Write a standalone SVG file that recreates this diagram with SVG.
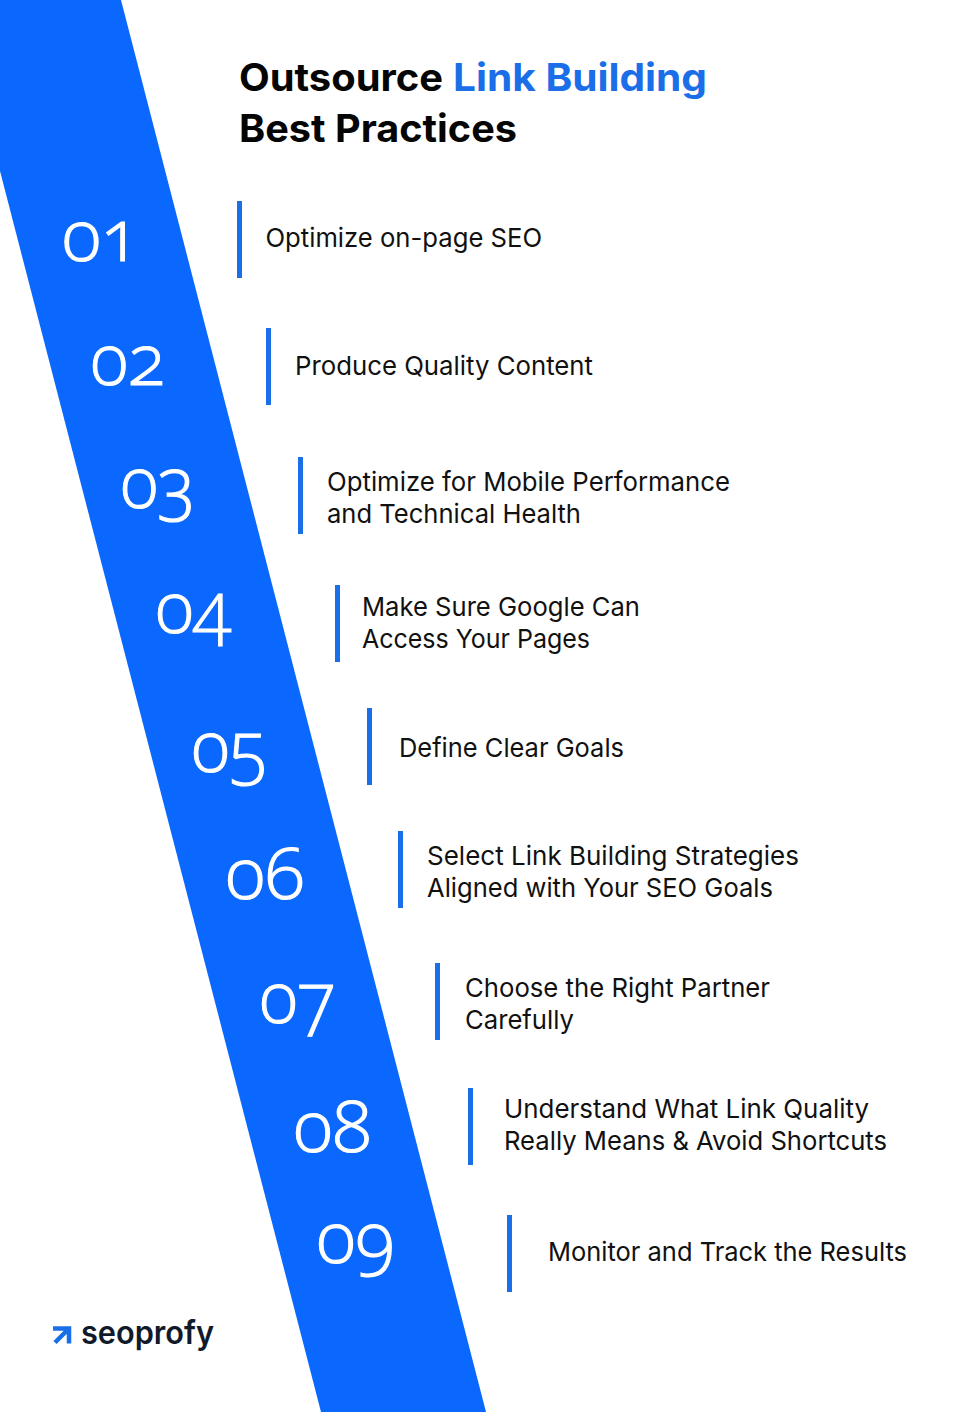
<svg xmlns="http://www.w3.org/2000/svg" width="972" height="1412" viewBox="0 0 972 1412">
<style>
.t{font-family:"Inter","Noto Sans",sans-serif;font-size:26px;fill:#111}
.n{font-family:"Open Sans","Roboto",sans-serif;font-size:72px;font-weight:300;fill:#fff;stroke:#fff;stroke-width:1.100px;font-feature-settings:"onum"}
.b{fill:#0a68ff}
.r{fill:#1a6ee8}
.h{font-family:"Inter",sans-serif;font-size:38px;font-weight:700;fill:#050505}
</style>
<rect width="972" height="1412" fill="#fff"/>
<g id="band"><polygon class="b" points="0,0 121,0 486,1412 321,1412 0,171"/></g>
<g id="title"><text class="h" x="239" y="91" textLength="204" lengthAdjust="spacingAndGlyphs">Outsource</text><text class="h" x="453" y="91" textLength="254" lengthAdjust="spacingAndGlyphs" style="fill:#1a6ee8">Link Building</text><text class="h" x="239" y="142" textLength="278" lengthAdjust="spacingAndGlyphs">Best Practices</text></g>
<g id="item1"><text class="n" x="62" y="260.500" textLength="78" lengthAdjust="spacingAndGlyphs">01</text><rect class="r" x="237" y="201" width="5" height="77"/><text class="t" x="265.500" y="247" textLength="276.500" lengthAdjust="spacingAndGlyphs">Optimize on-page SEO</text></g>
<g id="item2"><text class="n" x="90.500" y="384.500" textLength="75" lengthAdjust="spacingAndGlyphs">02</text><rect class="r" x="266" y="328" width="5" height="77"/><text class="t" x="295" y="375" textLength="298" lengthAdjust="spacingAndGlyphs">Produce Quality Content</text></g>
<g id="item3"><text class="n" x="120.500" y="507.500" textLength="75" lengthAdjust="spacingAndGlyphs">03</text><rect class="r" x="298" y="457" width="5" height="77"/><text class="t" x="327" y="491" textLength="403" lengthAdjust="spacingAndGlyphs">Optimize for Mobile Performance</text><text class="t" x="327" y="523" textLength="254" lengthAdjust="spacingAndGlyphs">and Technical Health</text></g>
<g id="item4"><text class="n" x="155.500" y="632.500" textLength="76" lengthAdjust="spacingAndGlyphs">04</text><rect class="r" x="335" y="585" width="5" height="77"/><text class="t" x="362" y="616" textLength="278" lengthAdjust="spacingAndGlyphs">Make Sure Google Can</text><text class="t" x="362" y="648" textLength="228" lengthAdjust="spacingAndGlyphs">Access Your Pages</text></g>
<g id="item5"><text class="n" x="191.500" y="771.500" textLength="76" lengthAdjust="spacingAndGlyphs">05</text><rect class="r" x="367" y="708" width="5" height="77"/><text class="t" x="399" y="757" textLength="225" lengthAdjust="spacingAndGlyphs">Define Clear Goals</text></g>
<g id="item6"><text class="n" x="225.500" y="898.500" textLength="79" lengthAdjust="spacingAndGlyphs">06</text><rect class="r" x="398" y="831" width="5" height="77"/><text class="t" x="427" y="865" textLength="372" lengthAdjust="spacingAndGlyphs">Select Link Building Strategies</text><text class="t" x="427" y="897" textLength="346" lengthAdjust="spacingAndGlyphs">Aligned with Your SEO Goals</text></g>
<g id="item7"><text class="n" x="259.500" y="1022.500" textLength="76" lengthAdjust="spacingAndGlyphs">07</text><rect class="r" x="435" y="963" width="5" height="77"/><text class="t" x="465" y="997" textLength="305" lengthAdjust="spacingAndGlyphs">Choose the Right Partner</text><text class="t" x="465" y="1029" textLength="109" lengthAdjust="spacingAndGlyphs">Carefully</text></g>
<g id="item8"><text class="n" x="293.500" y="1151.500" textLength="78" lengthAdjust="spacingAndGlyphs">08</text><rect class="r" x="468" y="1088" width="5" height="77"/><text class="t" x="504" y="1118" textLength="365" lengthAdjust="spacingAndGlyphs">Understand What Link Quality</text><text class="t" x="504" y="1150" textLength="383" lengthAdjust="spacingAndGlyphs">Really Means &amp; Avoid Shortcuts</text></g>
<g id="item9"><text class="n" x="316.500" y="1262.500" textLength="78" lengthAdjust="spacingAndGlyphs">09</text><rect class="r" x="507" y="1215" width="5" height="77"/><text class="t" x="548" y="1261" textLength="359" lengthAdjust="spacingAndGlyphs">Monitor and Track the Results</text></g>
<g id="logo"><path d="M53 1328.500H69V1343.500M69 1328.500L55 1342.500" fill="none" stroke="#1a6ee8" stroke-width="4.500"/><text x="81" y="1344" font-family="Inter,sans-serif" font-size="32" font-weight="600" fill="#111a2b" textLength="133" lengthAdjust="spacingAndGlyphs">seoprofy</text></g>
</svg>
